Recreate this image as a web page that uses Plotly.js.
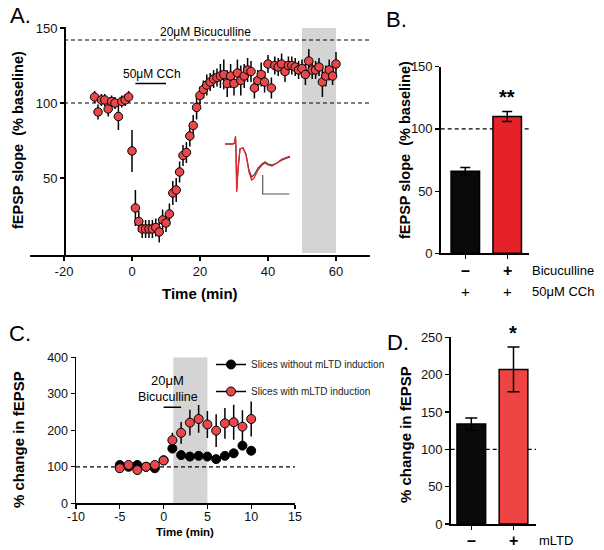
<!DOCTYPE html>
<html>
<head>
<meta charset="utf-8">
<script src="https://cdn.plot.ly/plotly-3.0.1.min.js"></script>
<style>html,body{margin:0;padding:0;background:#fff;}#chart{width:604px;height:550px;}</style>
</head>
<body>
<div id="chart"></div>
<script>
// ---------- Panel A data ----------
const timeA = [-11,-10,-9,-8,-7,-6,-5,-4,-3,-2,-1,0,1,2,3,4,5,6,7,8,9,10,11,12,13,14,15,16,17,18,19,20,21,22,23,24,25,26,27,28,29,30,31,32,33,34,35,36,37,38,39,40,41,42,43,44,45,46,47,48,49,50,51,52,53,54,55,56,57,58,59,60];
const slopeA = [104,94,102,102,96,101,100,91,101,102,104,68,30,21,16,16,16,16,17,14,22,20,26,40,42,54,65,67,78,85,97,105,109,112,114,116,117,118,119,113,118,113,120,115,118,122,121,110,115,119,114,126,110,125,124,126,121,125,125,124,122,123,119,128,122,122,124,114,118,122,118,126];
const errA   = [4,5,4,4,5,4,4,9,4,4,4,14,12,7,6,6,6,6,6,7,7,6,7,8,8,7,7,7,7,7,8,6,6,7,6,6,6,8,10,9,8,8,9,10,8,8,7,7,7,8,7,6,7,6,6,7,7,6,6,6,6,6,7,8,6,6,6,10,7,7,6,8];
const tickValsA = [-20,0,20,40,60];
const tickTextA = ['-20','0','20','40','60'];
const bicLevelA = [142];
const baselineLevel = [100];
const cchBarA = [1, 10];
const cchLevelA = [113];
const shadeA = [50, 60];
// inset traces (fEPSP waveforms, arbitrary units)
const insetT     = [3,11,12.5,13.5,14,14.7,16,18,21,24,27,29.7,32,36,40,43,46,50,55,60,68];
const insetRed   = [52,52,53,60,46,4,26,47,48,41,24,16,18,26,31,33,31,30,33,37,40];
const insetBlack = [52,52,53,59,46,6,27,47,48,42,26,19,21,28,32,34,32,31,33,36,39];
const scaleBarX = [40.7,40.7,67.3];
const scaleBarY = [21,2,2];

// ---------- Panel B data ----------
const groupsB = [0, 1];
const valuesB = [66, 110];
const errB = [3, 4];
const bicRowB = ['\u2013', '+'];
const cchRowB = ['+', '+'];
const rowLabelsB = ['Bicuculline', '50\u03bcM CCh'];

// ---------- Panel C data ----------
const timeC = [-5,-4,-3,-2,-1,0,1,2,3,4,5,6,7,8,9,10];
const withC = [96,105,91,100,105,117,173,193,221,231,216,199,219,222,210,231];
const withErrC = [8,8,6,6,8,8,20,30,35,38,37,45,42,48,45,48];
const withoutC = [105,100,105,100,96,118,150,132,128,130,128,121,130,137,158,144];
const withoutErrC = [5,5,5,5,5,6,8,5,5,5,5,5,5,5,8,5];
const tickValsC = [-10,-5,0,5,10,15];
const tickTextC = ['-10','-5','0','5','10','15'];
const shadeC = [1.1, 5];
const bicBarC = [0, 2];
const bicLevelC = [263];
const seriesNamesC = ['Slices without mLTD induction', 'Slices with mLTD induction'];

// ---------- Panel D data ----------
const groupsD = [0, 1];
const valuesD = [134, 207];
const errD = [8, 30];
const mltdRowD = ['\u2013', '+'];

// ---------- helpers / styles ----------
const W = 604, H = 550;
const fx = p => p / W;
const fy = p => 1 - p / H;
const RED = '#e8474b';
const FONT = 'Liberation Sans, Arial, sans-serif';
const NARROW = 'Liberation Sans Narrow, Arial Narrow, Liberation Sans, Arial, sans-serif';

const errStyle = (arr) => ({type:'data', array:arr, visible:true, color:'#000', thickness:1.5, width:0});

const traces = [
  // Panel A
  {x: timeA, y: slopeA, xaxis:'x', yaxis:'y', type:'scatter', mode:'markers', showlegend:false,
   marker:{size:8.5, color:RED, line:{color:'#000', width:1}}, error_y: errStyle(errA)},
  // inset
  {x: insetT, y: insetBlack, xaxis:'x5', yaxis:'y5', type:'scatter', mode:'lines', showlegend:false,
   line:{color:'#333', width:1.1}},
  {x: insetT, y: insetRed, xaxis:'x5', yaxis:'y5', type:'scatter', mode:'lines', showlegend:false,
   line:{color:'#e3262c', width:1.3}},
  {x: scaleBarX, y: scaleBarY, xaxis:'x5', yaxis:'y5', type:'scatter', mode:'lines', showlegend:false,
   line:{color:'#555', width:1.2}},
  // Panel B
  {x: groupsB, y: valuesB, xaxis:'x2', yaxis:'y2', type:'bar', width:0.68, showlegend:false,
   marker:{color:['#0a0a0a','#e62229'], line:{color:'#000', width:1.5}},
   error_y:{type:'data', array:errB, visible:true, color:'#000', thickness:1.5, width:5}},
  // Panel C
  {x: timeC, y: withoutC, xaxis:'x3', yaxis:'y3', type:'scatter', mode:'markers', showlegend:false,
   marker:{size:9, color:'#000', line:{color:'#000', width:1}}, error_y: errStyle(withoutErrC)},
  {x: timeC, y: withC, xaxis:'x3', yaxis:'y3', type:'scatter', mode:'markers', showlegend:false,
   marker:{size:9, color:RED, line:{color:'#000', width:1}}, error_y: errStyle(withErrC)},
  // legend entries for C
  {x:[null], y:[null], xaxis:'x3', yaxis:'y3', type:'scatter', mode:'lines+markers', name: seriesNamesC[0],
   legendgroup:'a', marker:{size:9, color:'#000', line:{color:'#000', width:1}}, line:{color:'#000', width:1.5}},
  {x:[null], y:[null], xaxis:'x3', yaxis:'y3', type:'scatter', mode:'lines+markers', name: seriesNamesC[1],
   legendgroup:'b', marker:{size:9, color:RED, line:{color:'#000', width:1}}, line:{color:'#000', width:1.5}},
  // Panel D
  {x: groupsD, y: valuesD, xaxis:'x4', yaxis:'y4', type:'bar', width:0.68, showlegend:false,
   marker:{color:['#0a0a0a','#ee4444'], line:{color:'#000', width:1.5}},
   error_y:{type:'data', array:errD, visible:true, color:'#000', thickness:1.5, width:6}}
];

const axBase = {showgrid:false, zeroline:false, showline:true, linecolor:'#000', linewidth:1.5,
  ticks:'outside', ticklen:4, tickwidth:1.2, tickcolor:'#000', tickfont:{family:FONT, size:13, color:'#111'}};

const xADom = [fx(30), fx(370)];
const layout = {
  width: W, height: H, margin:{l:0, r:0, t:0, b:0},
  paper_bgcolor:'#fff', plot_bgcolor:'rgba(0,0,0,0)',
  font:{family:FONT, color:'#000'},
  showlegend:true,
  legend:{x: fx(211), y: fy(350), xanchor:'left', yanchor:'top', bgcolor:'rgba(0,0,0,0)',
          font:{family:FONT, size:10, color:'#222'}, itemwidth:30, tracegroupgap:8},
  xaxis: Object.assign({}, axBase, {domain: xADom, range:[-30,70], anchor:'y', tickmode:'array',
          tickvals:tickValsA, ticktext:tickTextA}),
  yaxis: Object.assign({}, axBase, {domain:[fy(255.2), fy(26.5)], range:[-1.5,151], anchor:'free',
          position: xADom[0] + (xADom[1]-xADom[0])*0.1, tickvals:[50,100,150]}),
  xaxis2: Object.assign({}, axBase, {domain:[fx(440.7), fx(529)], range:[-0.587,1.52], anchor:'y2',
          tickvals:groupsB, showticklabels:false}),
  yaxis2: Object.assign({}, axBase, {domain:[fy(253.3), fy(66.7)], range:[0,150], anchor:'x2', tickvals:[0,50,100,150]}),
  xaxis3: Object.assign({}, axBase, {domain:[fx(76), fx(295)], range:[-10,15], anchor:'y3', tickmode:'array',
          tickvals:tickValsC, ticktext:tickTextC, ticklabelstandoff:-3, tickfont:{family:FONT, size:12.5, color:'#111'}}),
  yaxis3: Object.assign({}, axBase, {domain:[fy(503.3), fy(357.3)], range:[0,400], anchor:'x3',
          tickvals:[0,100,200,300,400], tickfont:{family:FONT, size:12.5, color:'#111'}}),
  xaxis4: Object.assign({}, axBase, {domain:[fx(450.7), fx(536)], range:[-0.488,1.533], anchor:'y4',
          tickvals:groupsD, showticklabels:false}),
  yaxis4: Object.assign({}, axBase, {domain:[fy(524), fy(337.3)], range:[0,250], anchor:'x4', tickvals:[0,50,100,150,200,250]}),
  xaxis5: {domain:[fx(222), fx(292)], range:[0,70], anchor:'y5', visible:false, fixedrange:true},
  yaxis5: {domain:[fy(196), fy(134)], range:[0,62], anchor:'x5', visible:false, fixedrange:true},
  shapes: [],
  annotations: []
};

const dash = {color:'#000', width:1.2, dash:'4px,3px'};
// A
layout.shapes.push({type:'rect', xref:'x', yref:'y', x0:shadeA[0], x1:shadeA[1], y0:0, y1:150, fillcolor:'#d4d4d4', line:{width:0}, layer:'below'});
layout.shapes.push({type:'line', xref:'x', yref:'y', x0:-20, x1:70, y0:baselineLevel[0], y1:baselineLevel[0], line:dash, layer:'below'});
layout.shapes.push({type:'line', xref:'x', yref:'y', x0:-20, x1:70, y0:bicLevelA[0], y1:bicLevelA[0], line:dash, layer:'below'});
layout.shapes.push({type:'line', xref:'x', yref:'y', x0:cchBarA[0], x1:cchBarA[1], y0:cchLevelA[0], y1:cchLevelA[0], line:{color:'#000', width:1.5}});
// B
layout.shapes.push({type:'line', xref:'x2', yref:'y2', x0:-0.587, x1:1.52, y0:baselineLevel[0], y1:baselineLevel[0], line:dash, layer:'below'});
// C
layout.shapes.push({type:'rect', xref:'x3', yref:'y3', x0:shadeC[0], x1:shadeC[1], y0:0, y1:400, fillcolor:'#d4d4d4', line:{width:0}, layer:'below'});
layout.shapes.push({type:'line', xref:'x3', yref:'y3', x0:-10, x1:15, y0:baselineLevel[0], y1:baselineLevel[0], line:dash, layer:'below'});
layout.shapes.push({type:'line', xref:'x3', yref:'y3', x0:bicBarC[0], x1:bicBarC[1], y0:bicLevelC[0], y1:bicLevelC[0], line:{color:'#000', width:1.5}});
// D
layout.shapes.push({type:'line', xref:'x4', yref:'y4', x0:-0.488, x1:1.533, y0:baselineLevel[0], y1:baselineLevel[0], line:dash, layer:'below'});

function ann(px, py, text, size, opts) {
  layout.annotations.push(Object.assign({xref:'paper', yref:'paper', x:fx(px), y:fy(py), text:text,
    showarrow:false, xanchor:'center', yanchor:'middle', font:{family:FONT, size:size, color:'#000'}}, opts||{}));
}
// Panel letters
ann(20, 16, 'A.', 22);
ann(396, 19, 'B.', 22);
ann(20, 333, 'C.', 22);
ann(398, 342, 'D.', 22);
// Panel A texts
ann(205, 32, '20\u03bcM Bicuculline', 12);
ann(152, 74, '50\u03bcM CCh', 12);
ann(18, 140, '<b>fEPSP slope  (% baseline)</b>', 14.5, {textangle:-90});
ann(200, 293, '<b>Time (min)</b>', 15);
// Panel B texts
ann(405, 150, '<b>fEPSP slope  (% baseline)</b>', 14.5, {textangle:-90});
ann(507, 97, '<b>**</b>', 20);
groupsB.forEach((g, i) => {
  layout.annotations.push({xref:'x2', yref:'paper', x:g, y:fy(270), text:'<b>'+bicRowB[i]+'</b>', showarrow:false,
    xanchor:'center', yanchor:'middle', font:{family:FONT, size:16, color:'#000'}});
  layout.annotations.push({xref:'x2', yref:'paper', x:g, y:fy(291), text:cchRowB[i], showarrow:false,
    xanchor:'center', yanchor:'middle', font:{family:FONT, size:15, color:'#000'}});
});
ann(530, 270, rowLabelsB[0], 13, {xanchor:'left'});
ann(530, 291, rowLabelsB[1], 13, {xanchor:'left'});
// Panel C texts
ann(167, 380, '20\u03bcM', 13, {font:{family:NARROW, size:13, color:'#000'}});
ann(168, 397, 'Bicuculline', 12.5, {font:{family:NARROW, size:12.5, color:'#000'}});
ann(18, 440, '<b>% change in fEPSP</b>', 15, {textangle:-90});
ann(185, 532, '<b>Time (min)</b>', 11.5);
// Panel D texts
ann(405, 435, '<b>% change in fEPSP</b>', 15, {textangle:-90});
ann(513, 333, '<b>*</b>', 20);
groupsD.forEach((g, i) => {
  layout.annotations.push({xref:'x4', yref:'paper', x:g, y:fy(540), text:'<b>'+mltdRowD[i]+'</b>', showarrow:false,
    xanchor:'center', yanchor:'middle', font:{family:FONT, size:16, color:'#000'}});
});
ann(537, 540, 'mLTD', 13, {xanchor:'left'});

Plotly.newPlot('chart', traces, layout, {displayModeBar:false, staticPlot:true});
</script>
</body>
</html>
